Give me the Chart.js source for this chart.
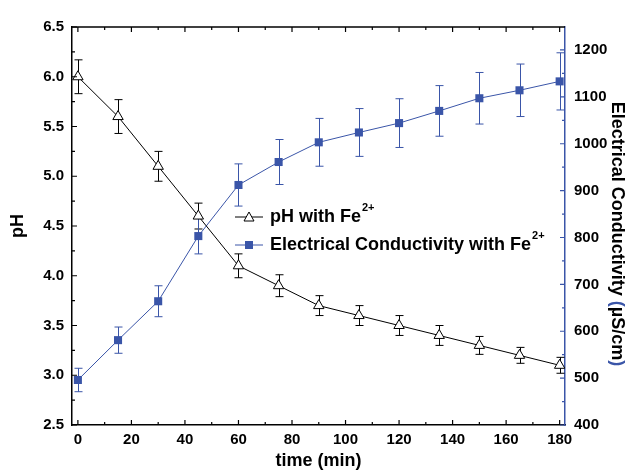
<!DOCTYPE html>
<html>
<head>
<meta charset="utf-8">
<script src="https://cdn.jsdelivr.net/npm/chart.js@4.4.1/dist/chart.umd.min.js"></script>
<style>
  body { margin: 0; background: #fff; }
</style>
</head>
<body>
<canvas id="phChart" width="628" height="470"></canvas>
<script>
// data
const times = [0, 15, 30, 45, 60, 75, 90, 105, 120, 135, 150, 165, 180]
const phValues = [6.0, 5.6, 5.1, 4.6, 4.1, 3.9, 3.7, 3.6, 3.5, 3.4, 3.3, 3.2, 3.1]
const phErrors = [0.17, 0.17, 0.15, 0.13, 0.12, 0.11, 0.1, 0.1, 0.1, 0.1, 0.09, 0.08, 0.08]
const ecValues = [496, 581, 664, 803, 912, 961, 1003, 1024, 1044, 1070, 1097, 1114, 1133]
const ecErrors = [25, 28, 33, 38, 45, 48, 51, 51, 52, 54, 55, 56, 61]

const timeTicks = [0, 20, 40, 60, 80, 100, 120, 140, 160, 180]
const phTicks = [2.5, 3.0, 3.5, 4.0, 4.5, 5.0, 5.5, 6.0, 6.5]
const ecTicks = [400, 500, 600, 700, 800, 900, 1000, 1100, 1200]

const BLUE = '#3a55a8'
const FONT = "'Liberation Sans', Arial, sans-serif"

const phPoints = times.map((t, i) => ({x: t, y: phValues[i]}))
const ecPoints = times.map((t, i) => ({x: t, y: ecValues[i]}))

// error bars drawn through the scales
const errorBars = {
    id: 'errorBars',
    beforeDatasetsDraw(chart) {
        const ctx = chart.ctx
        const x = chart.scales.x
        const sets = [
            {scale: chart.scales.y, vals: phValues, errs: phErrors, color: '#000'},
            {scale: chart.scales.y1, vals: ecValues, errs: ecErrors, color: BLUE}
        ]
        ctx.save()
        ctx.lineWidth = 1
        sets.forEach(s => {
            ctx.strokeStyle = s.color
            times.forEach((t, i) => {
                const px = Math.round(x.getPixelForValue(t)) + 0.5
                const top = s.scale.getPixelForValue(s.vals[i] + s.errs[i])
                const bot = s.scale.getPixelForValue(s.vals[i] - s.errs[i])
                ctx.beginPath()
                ctx.moveTo(px, top); ctx.lineTo(px, bot)
                ctx.moveTo(px - 4, top); ctx.lineTo(px + 4, top)
                ctx.moveTo(px - 4, bot); ctx.lineTo(px + 4, bot)
                ctx.stroke()
            })
        })
        ctx.restore()
    }
}

// inward ticks on all four sides, plus the top frame line
const frame = {
    id: 'frame',
    afterDraw(chart) {
        const ctx = chart.ctx
        const a = chart.chartArea
        const x = chart.scales.x, y = chart.scales.y, y1 = chart.scales.y1
        ctx.save()
        ctx.lineWidth = 1.5
        ctx.strokeStyle = '#000'
        ctx.beginPath()
        ctx.moveTo(a.left, a.top); ctx.lineTo(a.right, a.top)
        ctx.stroke()

        const xt = []
        timeTicks.forEach((v, i) => {
            xt.push([v, 5])
            if (i < timeTicks.length - 1) xt.push([(v + timeTicks[i + 1]) / 2, 3])
        })
        ctx.lineWidth = 1.2
        ctx.beginPath()
        xt.forEach(([v, len]) => {
            const px = x.getPixelForValue(v)
            ctx.moveTo(px, a.bottom); ctx.lineTo(px, a.bottom - len)
            ctx.moveTo(px, a.top); ctx.lineTo(px, a.top + len)
        })
        phTicks.forEach((v, i) => {
            const py = y.getPixelForValue(v)
            ctx.moveTo(a.left, py); ctx.lineTo(a.left + 5, py)
            if (i < phTicks.length - 1) {
                const pm = y.getPixelForValue((v + phTicks[i + 1]) / 2)
                ctx.moveTo(a.left, pm); ctx.lineTo(a.left + 3, pm)
            }
        })
        ctx.stroke()

        ctx.strokeStyle = BLUE
        ctx.beginPath()
        ecTicks.forEach((v, i) => {
            const py = y1.getPixelForValue(v)
            ctx.moveTo(a.right, py); ctx.lineTo(a.right - 5, py)
            const pm = y1.getPixelForValue(v + 50)
            if (v + 50 < y1.max) { ctx.moveTo(a.right, pm); ctx.lineTo(a.right - 3, pm) }
        })
        ctx.stroke()

        // right axis title with blue parentheses
        ctx.translate(617, (a.top + a.bottom) / 2 + 8)
        ctx.rotate(Math.PI / 2)
        ctx.font = 'bold 18px ' + FONT
        ctx.textBaseline = 'middle'
        const parts = [['Electrical Conductivity ', '#000'], ['(', BLUE], ['\u00b5S/cm', '#000'], [')', BLUE]]
        const total = parts.reduce((s, p) => s + ctx.measureText(p[0]).width, 0)
        let cx = -total / 2
        parts.forEach(([t, c]) => {
            ctx.fillStyle = c
            ctx.fillText(t, cx, 0)
            cx += ctx.measureText(t).width
        })
        ctx.restore()

        // legend inside plot
        ctx.save()
        const rows = [
            {y: 217, label: 'pH with Fe', color: '#000', style: 'tri'},
            {y: 245, label: 'Electrical Conductivity with Fe', color: BLUE, style: 'sq'}
        ]
        rows.forEach(r => {
            ctx.strokeStyle = r.color
            ctx.lineWidth = 1
            ctx.beginPath()
            ctx.moveTo(235, r.y); ctx.lineTo(263, r.y)
            ctx.stroke()
            if (r.style === 'tri') {
                ctx.fillStyle = '#fff'
                ctx.beginPath()
                ctx.moveTo(249, r.y - 5); ctx.lineTo(254, r.y + 4); ctx.lineTo(244, r.y + 4)
                ctx.closePath()
                ctx.fill(); ctx.stroke()
            } else {
                ctx.fillStyle = BLUE
                ctx.fillRect(245, r.y - 4, 8, 8)
            }
            ctx.fillStyle = '#000'
            ctx.font = 'bold 18px ' + FONT
            ctx.textBaseline = 'middle'
            ctx.fillText(r.label, 270, r.y)
            const w = ctx.measureText(r.label).width
            ctx.font = 'bold 11px ' + FONT
            ctx.fillText('2+', 270 + w + 1, r.y - 9)
        })
        ctx.restore()
    }
}

const data = {
    datasets: [{
        label: 'pH with Fe\u00b2\u207a',
        data: phPoints,
        yAxisID: 'y',
        borderColor: '#000',
        borderWidth: 1,
        pointStyle: 'triangle',
        pointRadius: 6,
        pointBackgroundColor: '#fff',
        pointBorderColor: '#000',
        pointBorderWidth: 1
    }, {
        label: 'Electrical Conductivity with Fe\u00b2\u207a',
        data: ecPoints,
        yAxisID: 'y1',
        borderColor: BLUE,
        borderWidth: 1,
        pointStyle: 'rect',
        pointRadius: 5.7,
        pointBackgroundColor: BLUE,
        pointBorderColor: BLUE,
        pointBorderWidth: 0
    }]
}

const tickFont = {family: FONT, size: 15, weight: 'bold'}

const options = {
    responsive: false,
    animation: false,
    layout: { padding: { top: 27 } },
    plugins: {
        legend: { display: false },
        tooltip: { enabled: false }
    },
    scales: {
        x: {
            type: 'linear',
            min: -2.2,
            max: 182,
            afterBuildTicks: s => { s.ticks = timeTicks.map(v => ({value: v})) },
            afterFit: s => { s.height = 45 },
            grid: { drawOnChartArea: false, drawTicks: false },
            border: { color: '#000', width: 1.5 },
            ticks: { font: tickFont, color: '#000', padding: 6, maxRotation: 0, autoSkip: false, callback: v => String(v) },
            title: { display: true, text: 'time (min)', color: '#000', font: {family: FONT, size: 18, weight: 'bold', lineHeight: 1}, padding: 0 }
        },
        y: {
            position: 'left',
            min: 2.5,
            max: 6.5,
            afterBuildTicks: s => { s.ticks = phTicks.map(v => ({value: v})) },
            afterFit: s => { s.width = 72 },
            grid: { drawOnChartArea: false, drawTicks: false },
            border: { color: '#000', width: 1.5 },
            ticks: { font: tickFont, color: '#000', padding: 8, autoSkip: false, callback: v => v.toFixed(1) },
            title: { display: true, text: 'pH', color: '#000', font: {family: FONT, size: 18, weight: 'bold', lineHeight: 1}, padding: {top: 9, bottom: 0} }
        },
        y1: {
            position: 'right',
            min: 400,
            max: 1249,
            afterBuildTicks: s => { s.ticks = ecTicks.map(v => ({value: v})) },
            afterFit: s => { s.width = 63 },
            grid: { drawOnChartArea: false, drawTicks: false },
            border: { color: BLUE, width: 1.5 },
            ticks: { font: tickFont, color: '#000', padding: 9, autoSkip: false, callback: v => String(v) }
        }
    }
}

new Chart('phChart', {type: 'line', data, options, plugins: [errorBars, frame]})
</script>
</body>
</html>
